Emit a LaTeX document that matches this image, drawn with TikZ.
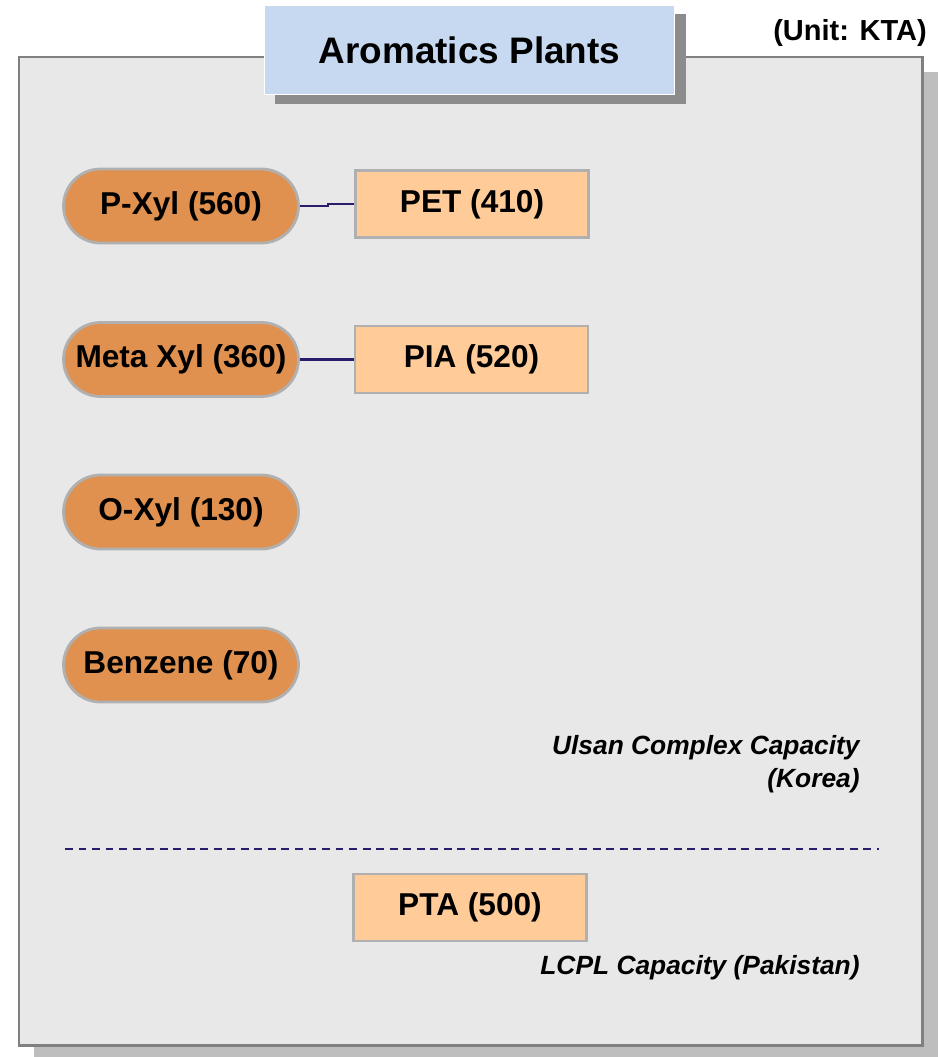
\documentclass[tikz,border=0pt]{standalone}
\usepackage{fontspec}
\setmainfont{Liberation Sans}
\definecolor{panelfill}{HTML}{E8E8E8}
\definecolor{panelline}{HTML}{808080}
\definecolor{panelshadow}{HTML}{BEBEBE}
\definecolor{titlefill}{HTML}{C6D9F0}
\definecolor{titleshadow}{HTML}{8C8C8C}
\definecolor{feedfill}{HTML}{E0914F}
\definecolor{prodfill}{HTML}{FFCC99}
\definecolor{nodeline}{HTML}{B0B0B0}
\definecolor{linkline}{HTML}{2B1B6B}
\begin{document}
\begin{tikzpicture}[x=0.02cm, y=-0.02cm,
  titlebox/.style={fill=titlefill, draw=white, line width=0.8pt,
    minimum width=8.2cm, minimum height=1.78cm,
    font=\fontsize{21}{25}\selectfont\bfseries},
  feed/.style={fill=feedfill, draw=nodeline, line width=1.6pt,
    minimum width=4.7cm, minimum height=1.48cm, rounded corners=0.74cm,
    font=\fontsize{18}{22}\selectfont\bfseries},
  product/.style={fill=prodfill, draw=nodeline, line width=1.4pt,
    minimum width=4.66cm, minimum height=1.34cm,
    font=\fontsize{18}{22}\selectfont\bfseries},
  note/.style={anchor=east, inner sep=0pt, font=\fontsize{15}{18}\selectfont\bfseries\itshape},
  link/.style={draw=linkline, line width=1.2pt}]
  \useasboundingbox (0,0) rectangle (945,1057);
  % panel with its shadow
  \fill[panelshadow] (34,72) rectangle (938,1057);
  \draw[fill=panelfill, draw=panelline, line width=1.7pt] (19,57) rectangle (922,1045);
  % title
  \fill[titleshadow] (275,14) rectangle (686,104);
  \node[titlebox] (title) at (469.5,50) {Aromatics Plants};
  \node[anchor=east, font=\fontsize{16.5}{20}\selectfont\bfseries] (unit) at (933,33) {(Unit: KTA)};
  % Ulsan complex
  \node[feed] (pxyl) at (181,206) {P-Xyl (560)};
  \node[feed] (mxyl) at (181,359.5) {Meta Xyl (360)};
  \node[feed] (oxyl) at (181,512) {O-Xyl (130)};
  \node[feed] (benz) at (181,665) {Benzene (70)};
  \node[product] (pet) at (472,204) {PET (410)};
  \node[product] (pia) at (471.5,359.5) {PIA (520)};
  \draw[link] (pxyl.east) -- ++(28,0) |- (pet.west);
  \draw[link] (mxyl.east) -- (pia.west);
  \node[note] (ulsan) at (860,748) {Ulsan Complex Capacity};
  \node[note] (korea) at (860,781) {(Korea)};
  % divider
  \coordinate (divl) at (65,849);
  \coordinate (divr) at (879,849);
  \draw[link, line width=1.6pt, dash pattern=on 4.5pt off 3.2pt] (divl) -- (divr);
  % LCPL
  \node[product] (pta) at (470,907.5) {PTA (500)};
  \node[note] (lcpl) at (860,968) {LCPL Capacity (Pakistan)};
\end{tikzpicture}
\end{document}
